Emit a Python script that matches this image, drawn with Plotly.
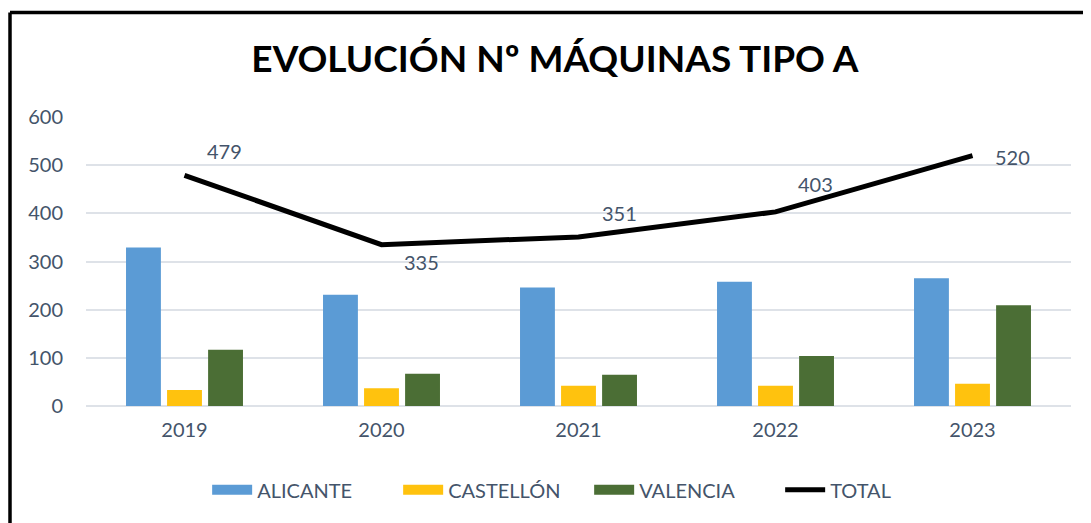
import plotly.graph_objects as go

years = ["2019", "2020", "2021", "2022", "2023"]
alicante = [329, 231, 246, 258, 265]
castellon = [33, 37, 42, 42, 46]
valencia = [117, 67, 65, 104, 209]
total = [479, 335, 351, 403, 520]
y_ticks = [0, 100, 200, 300, 400, 500, 600]

txt = "#44546A"
font = "Lato, 'Open Sans', sans-serif"
c_ali, c_cas, c_val = "#5B9BD5", "#FFC20E", "#4B6E35"

fig = go.Figure()
for name, vals, col in [("ALICANTE", alicante, c_ali),
                        ("CASTELLÓN", castellon, c_cas),
                        ("VALENCIA", valencia, c_val)]:
    fig.add_trace(go.Bar(name=name, x=years, y=vals, showlegend=False,
                         legendgroup=name,
                         marker=dict(color=col, line=dict(width=0))))
fig.add_trace(go.Scatter(name="TOTAL", x=years, y=total, mode="lines",
                         showlegend=False, legendgroup="TOTAL",
                         line=dict(color="black", width=5)))
# legend entries with wide swatches
for name, col, w in [("ALICANTE", c_ali, 14), ("CASTELLÓN", c_cas, 14),
                     ("VALENCIA", c_val, 14), ("TOTAL", "black", 5)]:
    fig.add_trace(go.Scatter(name=name, x=[None], y=[None], mode="lines",
                             legendgroup=name, line=dict(color=col, width=w)))

# data labels for the total line (offsets are styling)
shifts = [(40, 24), (40, -17), (41, 24), (40, 28), (40, -1)]
for i, (tv, (dx, dy)) in enumerate(zip(total, shifts)):
    fig.add_annotation(x=i, y=tv, xref="x", yref="y", text=str(tv),
                       showarrow=False, xshift=dx, yshift=dy,
                       font=dict(family=font, size=20, color=txt))

W, H = 1083, 515   # page body adds an 8px offset
fig.update_layout(
    width=W, height=H,
    paper_bgcolor="white", plot_bgcolor="white",
    margin=dict(l=78, r=20, t=109, b=117, autoexpand=False),
    barmode="group", bargap=0.375, bargroupgap=0.15,
    title=dict(text="<b>EVOLUCIÓN Nº MÁQUINAS TIPO A</b>",
               x=0.505, xanchor="center", y=1 - 51 / H, yanchor="middle",
               font=dict(family=font, size=37, color="black")),
    font=dict(family=font, size=20, color=txt),
    legend=dict(orientation="h", x=0.123, xanchor="left",
                y=-0.29, yanchor="middle",
                font=dict(family=font, size=20, color=txt),
                traceorder="normal", itemwidth=40,
                entrywidth=136, entrywidthmode="pixels"),
    showlegend=True,
)
fig.update_yaxes(range=[0, 600], tickvals=y_ticks, showgrid=True,
                 gridcolor="#DEE2E8", gridwidth=1.5, zeroline=True,
                 zerolinecolor="#DEE2E8", zerolinewidth=1.5,
                 showline=False, ticks="", ticklabelstandoff=22,
                 tickfont=dict(family=font, size=20, color=txt))
fig.update_xaxes(type="category", range=[-0.5, 4.5], showgrid=False,
                 showline=False, ticks="", ticklabelstandoff=10,
                 tickfont=dict(family=font, size=20, color=txt))

# chart border (left and top edges visible)
ph = H - 109 - 117
pw = W - 78 - 20
bx = (2 - 78) / pw
by = (398 - 4.5) / ph
fig.add_shape(type="line", xref="paper", yref="paper",
              x0=bx, x1=bx, y0=by, y1=-0.45,
              line=dict(color="black", width=3.5))
fig.add_shape(type="line", xref="paper", yref="paper",
              x0=bx, x1=1.03, y0=by, y1=by,
              line=dict(color="black", width=3.5))

fig.write_html("out.html")
